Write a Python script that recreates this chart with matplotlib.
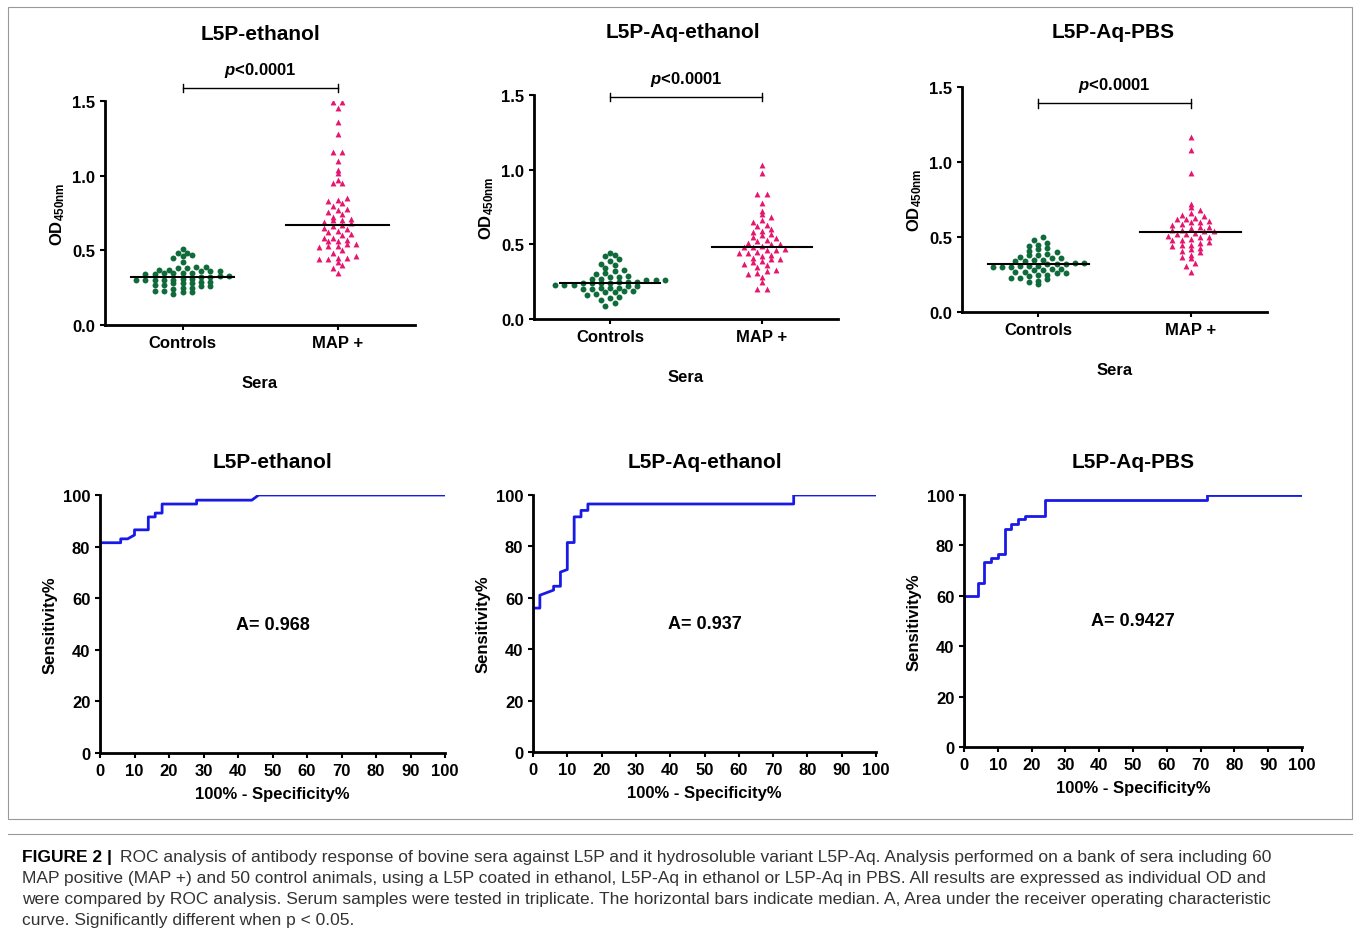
import numpy as np
import matplotlib.pyplot as plt
from matplotlib.patches import Rectangle

titles = ["L5P-ethanol", "L5P-Aq-ethanol", "L5P-Aq-PBS"]
groups = ["Controls", "MAP +"]

ctrl_1 = [0.21, 0.22, 0.22, 0.23, 0.23, 0.24, 0.25, 0.25, 0.26, 0.26, 0.27, 0.27, 0.28, 0.28, 0.28,
          0.29, 0.29, 0.30, 0.30, 0.30, 0.30, 0.30, 0.31, 0.31, 0.32, 0.32, 0.33, 0.33, 0.34, 0.34,
          0.35, 0.35, 0.35, 0.35, 0.36, 0.36, 0.36, 0.37, 0.37, 0.38, 0.38, 0.39, 0.39, 0.42, 0.45,
          0.46, 0.47, 0.48, 0.48, 0.51]
map_1 = [0.35, 0.38, 0.40, 0.42, 0.44, 0.44, 0.45, 0.45, 0.46, 0.48, 0.50, 0.52, 0.53, 0.53, 0.54,
         0.54, 0.56, 0.56, 0.57, 0.58, 0.58, 0.60, 0.61, 0.62, 0.63, 0.64, 0.65, 0.66, 0.67, 0.68,
         0.69, 0.70, 0.70, 0.71, 0.72, 0.74, 0.76, 0.77, 0.78, 0.80, 0.82, 0.83, 0.84, 0.85, 0.95,
         0.95, 0.97, 1.02, 1.04, 1.10, 1.16, 1.16, 1.28, 1.36, 1.45, 1.49, 1.49]
ctrl_2 = [0.09, 0.11, 0.13, 0.14, 0.15, 0.16, 0.17, 0.18, 0.18, 0.19, 0.19, 0.20, 0.20, 0.21, 0.21,
          0.21, 0.22, 0.22, 0.23, 0.23, 0.23, 0.24, 0.24, 0.24, 0.24, 0.25, 0.25, 0.25, 0.26, 0.26,
          0.26, 0.27, 0.27, 0.28, 0.28, 0.29, 0.30, 0.31, 0.32, 0.33, 0.34, 0.36, 0.37, 0.39, 0.40,
          0.42, 0.43, 0.44]
map_2 = [0.20, 0.20, 0.25, 0.28, 0.30, 0.31, 0.32, 0.33, 0.35, 0.36, 0.37, 0.38, 0.39, 0.40, 0.40,
         0.41, 0.42, 0.43, 0.44, 0.44, 0.45, 0.46, 0.46, 0.47, 0.48, 0.48, 0.49, 0.50, 0.50, 0.51,
         0.52, 0.53, 0.54, 0.55, 0.56, 0.57, 0.58, 0.59, 0.60, 0.62, 0.63, 0.65, 0.66, 0.68, 0.70,
         0.72, 0.78, 0.84, 0.84, 0.98, 1.03]
ctrl_3 = [0.19, 0.20, 0.21, 0.22, 0.23, 0.23, 0.24, 0.25, 0.25, 0.26, 0.26, 0.27, 0.27, 0.28, 0.28,
          0.29, 0.29, 0.30, 0.30, 0.30, 0.31, 0.31, 0.31, 0.32, 0.32, 0.32, 0.33, 0.33, 0.34, 0.34,
          0.35, 0.35, 0.36, 0.36, 0.37, 0.38, 0.38, 0.39, 0.40, 0.41, 0.42, 0.43, 0.44, 0.45, 0.46,
          0.48, 0.50]
map_3 = [0.27, 0.31, 0.33, 0.36, 0.37, 0.38, 0.40, 0.41, 0.42, 0.43, 0.44, 0.45, 0.45, 0.46, 0.47,
         0.48, 0.48, 0.49, 0.50, 0.50, 0.51, 0.52, 0.52, 0.53, 0.54, 0.54, 0.55, 0.55, 0.56, 0.57,
         0.57, 0.58, 0.59, 0.60, 0.60, 0.61, 0.62, 0.62, 0.63, 0.64, 0.65, 0.66, 0.68, 0.70, 0.72,
         0.93, 1.08, 1.17]
ctrl_sets = [ctrl_1, ctrl_2, ctrl_3]
map_sets = [map_1, map_2, map_3]

# ROC steps (100% - specificity, sensitivity)
roc_x1 = [0, 0, 6, 6, 8, 10, 10, 14, 14, 16, 16, 18, 18, 28, 28, 44, 46, 100]
roc_y1 = [0, 81.5, 81.5, 83, 83, 84.5, 86.5, 86.5, 91.5, 91.5, 93, 93, 96.5, 96.5, 98, 98, 100, 100]
roc_x2 = [0, 0, 2, 2, 4, 6, 6, 8, 8, 10, 10, 12, 12, 14, 14, 16, 16, 76, 76, 100]
roc_y2 = [0, 56, 56, 61, 62, 63, 64.5, 64.5, 70, 71, 81.5, 81.5, 91.5, 91.5, 94, 94, 96.5, 96.5, 100, 100]
roc_x3 = [0, 0, 4, 4, 6, 6, 8, 8, 10, 10, 12, 12, 14, 14, 16, 16, 18, 18, 24, 24, 72, 72, 100]
roc_y3 = [0, 60, 60, 65, 65, 73.5, 73.5, 75, 75, 76.5, 76.5, 86.5, 86.5, 88.5, 88.5, 90.5, 90.5, 91.5, 91.5, 98, 98, 100, 100]
roc_x = [roc_x1, roc_x2, roc_x3]
roc_y = [roc_y1, roc_y2, roc_y3]
auc = ["A= 0.968", "A= 0.937", "A= 0.9427"]

W, H = 1360, 953
plt.rcParams['font.family'] = ['Liberation Sans', 'DejaVu Sans']
plt.rcParams['font.weight'] = 'bold'
plt.rcParams['mathtext.fontset'] = 'custom'
plt.rcParams['mathtext.it'] = 'Liberation Sans:italic:bold'
fig = plt.figure(figsize=(W / 100, H / 100), dpi=100)


def ax_px(x0, x1, y0, y1):
    return fig.add_axes([x0 / W, 1 - y1 / H, (x1 - x0) / W, (y1 - y0) / H])


def swarm(vals, center, ystep=0.035, dx=0.06):
    vals = np.sort(np.array(vals))
    xs, ys = [], []
    bins = np.round(vals / ystep).astype(int)
    for b in np.unique(bins):
        v = vals[bins == b]
        n = len(v)
        offs = (np.arange(n) - (n - 1) / 2) * dx
        xs.extend(center + offs)
        ys.extend(v)
    return np.array(xs), np.array(ys)


top_pos = [(105, 415, 102, 326), (534, 838, 96, 320), (962, 1267, 88, 313)]
bot_pos = [(100, 445, 496, 754), (533, 876, 496, 753), (964, 1302, 496, 748)]
title_y = [35, 33, 33]
title_x = [260, 683, 1113]
bar_px = [89, 98, 104]

for i in range(3):
    x0, x1, y0, y1 = top_pos[i]
    ax = ax_px(*top_pos[i])
    for j, (vals, col, mk) in enumerate([(ctrl_sets[i], '#0f6b3a', 'o'), (map_sets[i], '#e6156e', '^')]):
        xs, ys = swarm(vals, j)
        ax.scatter(xs, ys, s=18, c=col, marker=mk, linewidths=0, zorder=3)
        med = np.median(vals)
        ax.plot([j - 0.33, j + 0.33], [med, med], color='black', lw=1.5, zorder=4)
    ax.set_xlim(-0.5, 1.5)
    ax.set_ylim(0, 1.5)
    ax.set_yticks([0, 0.5, 1.0, 1.5])
    ax.set_xticks([0, 1])
    ax.set_xticklabels(groups, fontsize=12)
    ax.tick_params(axis='y', labelsize=12, width=1.5)
    ax.tick_params(axis='x', width=1.5)
    for s in ['top', 'right']:
        ax.spines[s].set_visible(False)
    for s in ['left', 'bottom']:
        ax.spines[s].set_linewidth(2)
    ax.set_ylabel(r'OD$_{\mathregular{450nm}}$', fontsize=12, fontweight='bold')
    ax.set_xlabel('Sera', fontsize=12, fontweight='bold', labelpad=18)
    fig.text(title_x[i] / W, 1 - title_y[i] / H, titles[i], ha='center', va='center', fontsize=15)
    bar_y = 1.5 * (y1 - bar_px[i]) / (y1 - y0)
    ax.plot([0, 1], [bar_y, bar_y], color='black', lw=1, clip_on=False)
    for xb in [0, 1]:
        ax.plot([xb, xb], [bar_y - 0.03, bar_y + 0.03], color='black', lw=1, clip_on=False)
    ax.text(0.5, bar_y + 0.06, r'$\mathit{p}$<0.0001', ha='center', va='bottom', fontsize=12)

    ax = ax_px(*bot_pos[i])
    ax.plot(roc_x[i], roc_y[i], color='#1a1ae6', lw=2)
    ax.set_xlim(0, 100)
    ax.set_ylim(0, 100)
    ax.set_xticks(range(0, 101, 10))
    ax.set_yticks(range(0, 101, 20))
    ax.tick_params(labelsize=12, width=1.5)
    for s in ['top', 'right']:
        ax.spines[s].set_visible(False)
    for s in ['left', 'bottom']:
        ax.spines[s].set_linewidth(2)
    ax.set_ylabel('Sensitivity%', fontsize=12, fontweight='bold')
    ax.set_xlabel('100% - Specificity%', fontsize=12, fontweight='bold', labelpad=6)
    ax.set_title(titles[i], fontsize=15, fontweight='bold', pad=20)
    ax.text(50, 50, auc[i], ha='center', va='center', fontsize=13)

fig.add_artist(Rectangle((8 / W, 1 - 820 / H), 1344 / W, 812 / H, transform=fig.transFigure,
                         fill=False, edgecolor='#999999', lw=0.8))
fig.add_artist(plt.Line2D([8 / W, 1352 / W], [1 - 835 / H, 1 - 835 / H], color='#999999', lw=0.8))
first = ("ROC analysis of antibody response of bovine sera against L5P and it hydrosoluble variant L5P-Aq. "
         "Analysis performed on a bank of sera including 60")
rest = ("MAP positive (MAP +) and 50 control animals, using a L5P coated in ethanol, L5P-Aq in ethanol or L5P-Aq in PBS. "
        "All results are expressed as individual OD and\n"
        "were compared by ROC analysis. Serum samples were tested in triplicate. The horizontal bars indicate median. "
        "A, Area under the receiver operating characteristic\n"
        "curve. Significantly different when p < 0.05.")
fig.text(22 / W, 1 - 858 / H, "FIGURE 2 |", fontsize=12.5, fontweight='bold', va='center')
fig.text(120 / W, 1 - 858 / H, first, fontsize=12.5, fontweight='normal', va='center', color='#333333')
fig.text(22 / W, 1 - 871 / H, rest, fontsize=12.5, fontweight='normal', va='top',
         linespacing=1.5, color='#333333')

fig.savefig('out.png', dpi=100)
